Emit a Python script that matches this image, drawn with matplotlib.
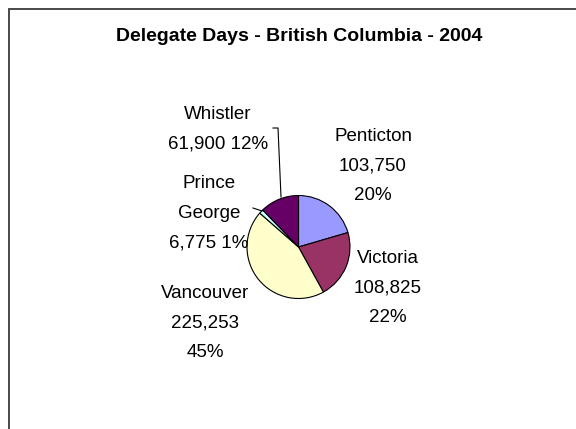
import matplotlib
matplotlib.use('Agg')
import matplotlib.pyplot as plt
from matplotlib.patches import Rectangle

plt.rcParams['font.family'] = ['Liberation Sans', 'DejaVu Sans']

# delegate days per city, in the order the slices run (clockwise from the top)
cities = ['Penticton', 'Victoria', 'Vancouver', 'Prince George', 'Whistler']
days = [103750, 108825, 225253, 6775, 61900]
percents = ['20%', '22%', '45%', '1%', '12%']
colors = ['#9999FF', '#993366', '#FFFFCC', '#CCFFFF', '#660066']

title = 'Delegate Days - British Columbia - 2004'

W, H = 576, 429
fig = plt.figure(figsize=(W / 100, H / 100), dpi=100)
ax = fig.add_axes([0, 0, 1, 1])


def Y(y):
    # picture rows are counted from the top
    return H - y


# chart border (right and bottom run off the picture)
ax.add_patch(Rectangle((8.5, -20), 620, Y(8.5) + 20, fill=False,
                       edgecolor='#3a3a3a', linewidth=1.3))

ax.text(299, Y(41), title, ha='center', va='baseline',
        fontsize=14, fontweight='bold')

ax.pie(days, colors=colors, startangle=90, counterclock=False,
       center=(298.5, Y(247)), radius=51.5,
       wedgeprops=dict(edgecolor='black', linewidth=0.8))
ax.set_xlim(0, W)
ax.set_ylim(0, H)
ax.set_aspect('equal')
ax.axis('off')

fmt = lambda v: f'{v:,}'
labels = {
    'Penticton': f'Penticton\n{fmt(days[0])}\n{percents[0]}',
    'Victoria': f'Victoria\n{fmt(days[1])}\n{percents[1]}',
    'Vancouver': f'Vancouver\n{fmt(days[2])}\n{percents[2]}',
    'Prince George': f'Prince\nGeorge\n{fmt(days[3])} {percents[3]}',
    'Whistler': f'Whistler\n{fmt(days[4])} {percents[4]}',
}
# centre x and top of each label block, in picture pixels
label_pos = {
    'Penticton': (373, 128),
    'Victoria': (388, 250),
    'Vancouver': (205, 285),
    'Prince George': (209, 175),
    'Whistler': (218, 106),
}
for name in cities:
    x, y = label_pos[name]
    ax.text(x, Y(y), labels[name], ha='center', va='top',
            fontsize=13.5, linespacing=1.98, color='black')

# leader lines
ax.plot([273, 278, 281], [Y(128), Y(128), Y(197)], color='black', lw=0.8)
ax.plot([253, 262], [Y(208), Y(211)], color='black', lw=0.8)

fig.savefig('out.png', dpi=100, facecolor='white')
